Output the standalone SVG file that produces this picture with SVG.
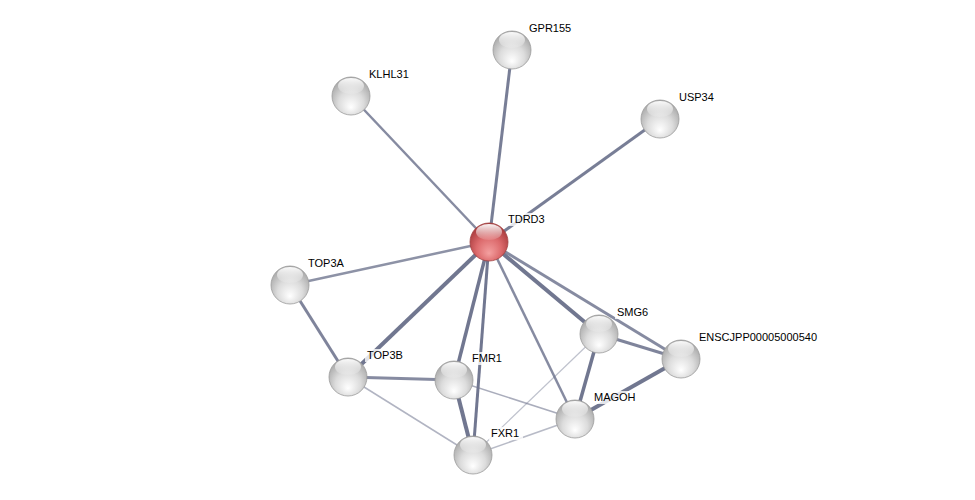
<svg xmlns="http://www.w3.org/2000/svg" width="975" height="500" viewBox="0 0 975 500">
<defs>
<radialGradient id="gg" cx="0.5" cy="0.62" r="0.6" fx="0.5" fy="0.8">
<stop offset="0" stop-color="#ffffff"/>
<stop offset="0.55" stop-color="#dcdcdc"/>
<stop offset="1" stop-color="#a8a8a8"/>
</radialGradient>
<radialGradient id="gr" cx="0.5" cy="0.62" r="0.6" fx="0.5" fy="0.8">
<stop offset="0" stop-color="#f4a0a0"/>
<stop offset="0.55" stop-color="#dc6a6c"/>
<stop offset="1" stop-color="#a83a3c"/>
</radialGradient>
<linearGradient id="hl" x1="0" y1="0" x2="0" y2="1">
<stop offset="0" stop-color="#ffffff" stop-opacity="0.95"/>
<stop offset="1" stop-color="#ffffff" stop-opacity="0.1"/>
</linearGradient>
</defs>
<style>
.e{stroke:#717790;fill:none;stroke-linecap:butt}
.n circle.b{stroke:#9a9a9a;stroke-width:0.8}
.n ellipse{fill:url(#hl)}
text{font-family:"Liberation Sans",Arial,sans-serif;font-size:11px;fill:#000}
.lb{fill:#ffffff;fill-opacity:0.8}
</style>
<rect width="975" height="500" fill="#ffffff"/>
<g id="connectors">
<line class="e" x1="489" y1="242" x2="512" y2="50" stroke-width="3" stroke-opacity="0.95"/>
<line class="e" x1="489" y1="242" x2="351" y2="96" stroke-width="2.5" stroke-opacity="0.85"/>
<line class="e" x1="489" y1="242" x2="660" y2="119" stroke-width="3" stroke-opacity="0.95"/>
<line class="e" x1="489" y1="242" x2="290" y2="285" stroke-width="2.5" stroke-opacity="0.8"/>
<line class="e" x1="489" y1="242" x2="348" y2="377" stroke-width="4"/>
<line class="e" x1="489" y1="242" x2="454" y2="380" stroke-width="3.5"/>
<line class="e" x1="489" y1="242" x2="473" y2="455" stroke-width="3"/>
<line class="e" x1="489" y1="242" x2="575" y2="419" stroke-width="2.5" stroke-opacity="0.85"/>
<line class="e" x1="489" y1="242" x2="599" y2="334" stroke-width="4"/>
<line class="e" x1="489" y1="242" x2="681" y2="359" stroke-width="3" stroke-opacity="0.85"/>
<line class="e" x1="290" y1="285" x2="348" y2="377" stroke-width="3" stroke-opacity="0.9"/>
<line class="e" x1="348" y1="377" x2="454" y2="380" stroke-width="3" stroke-opacity="0.85"/>
<line class="e" x1="348" y1="377" x2="473" y2="455" stroke-width="1.5" stroke-opacity="0.55"/>
<line class="e" x1="454" y1="380" x2="473" y2="455" stroke-width="4"/>
<line class="e" x1="454" y1="380" x2="575" y2="419" stroke-width="1.5" stroke-opacity="0.6"/>
<line class="e" x1="473" y1="455" x2="575" y2="419" stroke-width="1.5" stroke-opacity="0.5"/>
<line class="e" x1="473" y1="455" x2="599" y2="334" stroke-width="1.2" stroke-opacity="0.45"/>
<line class="e" x1="599" y1="334" x2="575" y2="419" stroke-width="3.5"/>
<line class="e" x1="599" y1="334" x2="681" y2="359" stroke-width="3" stroke-opacity="0.9"/>
<line class="e" x1="575" y1="419" x2="681" y2="359" stroke-width="4"/>
</g>
<g id="GPR155" class="n"><circle class="b" cx="512" cy="50" r="19" fill="url(#gg)"/><ellipse cx="512" cy="40" rx="13" ry="8"/><rect class="lb" x="527" y="22" width="48" height="13"/><text x="529" y="32">GPR155</text></g>
<g id="KLHL31" class="n"><circle class="b" cx="351" cy="96" r="19" fill="url(#gg)"/><ellipse cx="351" cy="86" rx="13" ry="8"/><rect class="lb" x="367" y="68" width="48" height="13"/><text x="369" y="78">KLHL31</text></g>
<g id="USP34" class="n"><circle class="b" cx="660" cy="119" r="19" fill="url(#gg)"/><ellipse cx="660" cy="109" rx="13" ry="8"/><rect class="lb" x="677" y="91" width="42" height="13"/><text x="679" y="101">USP34</text></g>
<g id="TDRD3" class="n"><circle class="b" cx="489" cy="242" r="19" fill="url(#gr)" style="stroke:#a04040"/><ellipse cx="489" cy="232" rx="13" ry="8"/><rect class="lb" x="506" y="213" width="46" height="13"/><text x="508" y="223">TDRD3</text></g>
<g id="TOP3A" class="n"><circle class="b" cx="290" cy="285" r="19" fill="url(#gg)"/><ellipse cx="290" cy="275" rx="13" ry="8"/><rect class="lb" x="306" y="257" width="44" height="13"/><text x="308" y="267">TOP3A</text></g>
<g id="SMG6" class="n"><circle class="b" cx="599" cy="334" r="19" fill="url(#gg)"/><ellipse cx="599" cy="324" rx="13" ry="8"/><rect class="lb" x="615" y="306" width="38" height="13"/><text x="617" y="316">SMG6</text></g>
<g id="ENSCJPP00005000540" class="n"><circle class="b" cx="681" cy="359" r="19" fill="url(#gg)"/><ellipse cx="681" cy="349" rx="13" ry="8"/><rect class="lb" x="697" y="331" width="134" height="13"/><text x="699" y="341">ENSCJPP00005000540</text></g>
<g id="TOP3B" class="n"><circle class="b" cx="348" cy="377" r="19" fill="url(#gg)"/><ellipse cx="348" cy="367" rx="13" ry="8"/><rect class="lb" x="365" y="349" width="44" height="13"/><text x="367" y="359">TOP3B</text></g>
<g id="FMR1" class="n"><circle class="b" cx="454" cy="380" r="19" fill="url(#gg)"/><ellipse cx="454" cy="370" rx="13" ry="8"/><rect class="lb" x="470" y="352" width="36" height="13"/><text x="472" y="362">FMR1</text></g>
<g id="MAGOH" class="n"><circle class="b" cx="575" cy="419" r="19" fill="url(#gg)"/><ellipse cx="575" cy="409" rx="13" ry="8"/><rect class="lb" x="592" y="391" width="48" height="13"/><text x="594" y="401">MAGOH</text></g>
<g id="FXR1" class="n"><circle class="b" cx="473" cy="455" r="19" fill="url(#gg)"/><ellipse cx="473" cy="445" rx="13" ry="8"/><rect class="lb" x="489" y="427" width="34" height="13"/><text x="491" y="437">FXR1</text></g>
</svg>
